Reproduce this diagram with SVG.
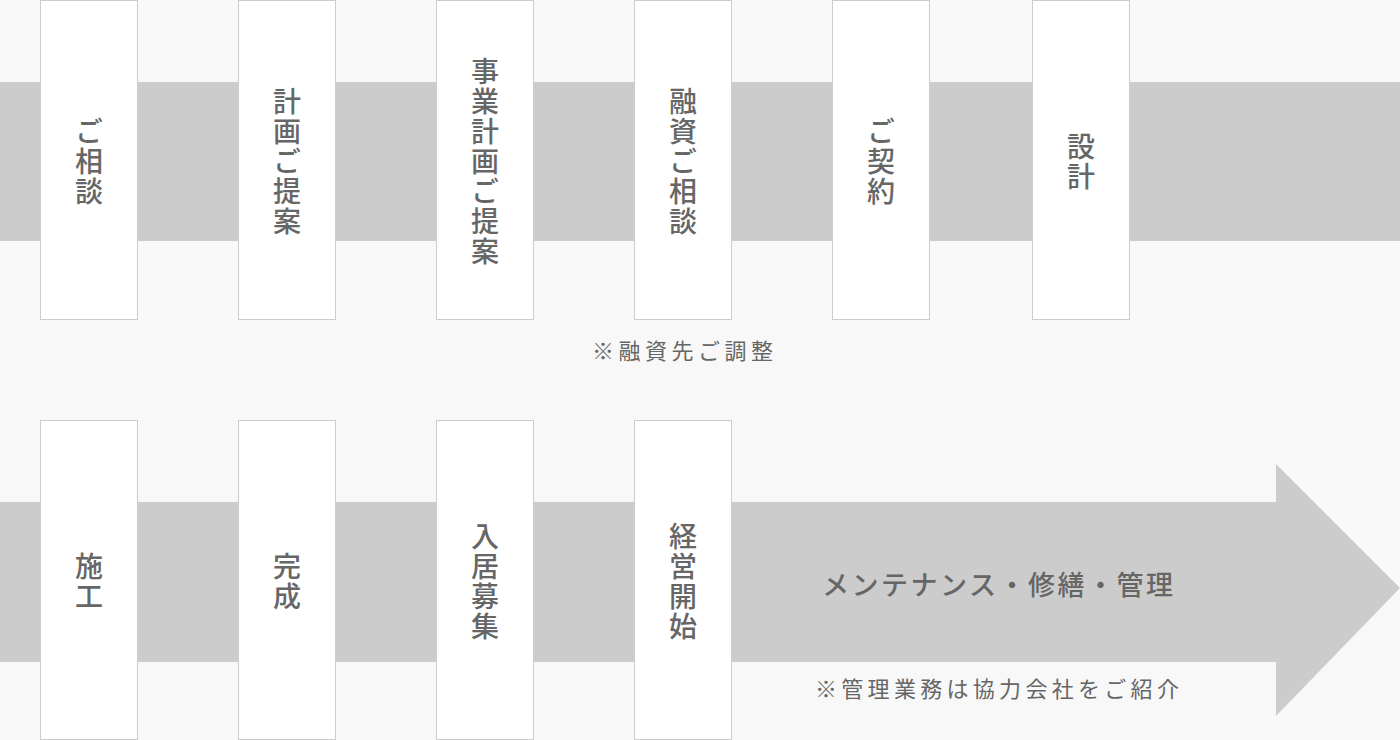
<svg xmlns="http://www.w3.org/2000/svg" width="1400" height="740" viewBox="0 0 1400 740">
<style>
.box{fill:#ffffff;stroke:#cccccc;stroke-width:1}
.band{fill:#cccccc}
.lbl{font-family:"Noto Sans CJK JP","Noto Sans",sans-serif;font-size:28px;font-weight:500;fill:#666666;text-anchor:middle;writing-mode:vertical-rl;letter-spacing:2px}
.note{font-family:"Noto Sans CJK JP","Noto Sans",sans-serif;font-size:22px;fill:#666666;dominant-baseline:central}
.big{font-family:"Noto Sans CJK JP","Noto Sans",sans-serif;font-size:27px;font-weight:500;fill:#666666;dominant-baseline:central}
</style>
<rect x="0" y="0" width="1400" height="740" fill="#f8f8f8"/>
<g id="connectors">
<rect class="band" x="0" y="82" width="1400" height="159"/>
<polygon class="band" points="0,502 1276,502 1276,464 1400,588 1276,716 1276,662 0,662"/>
</g>
<g id="n1"><rect class="box" x="40.5" y="0.5" width="97" height="319"/>
<text class="lbl" x="89" y="162">ご相談</text></g>
<g id="n2"><rect class="box" x="238.5" y="0.5" width="97" height="319"/>
<text class="lbl" x="287" y="162">計画ご提案</text></g>
<g id="n3"><rect class="box" x="436.5" y="0.5" width="97" height="319"/>
<text class="lbl" x="485" y="162">事業計画ご提案</text></g>
<g id="n4"><rect class="box" x="634.5" y="0.5" width="97" height="319"/>
<text class="lbl" x="683" y="162">融資ご相談</text></g>
<g id="n5"><rect class="box" x="832.5" y="0.5" width="97" height="319"/>
<text class="lbl" x="881" y="162">ご契約</text></g>
<g id="n6"><rect class="box" x="1032.5" y="0.5" width="97" height="319"/>
<text class="lbl" x="1081" y="162">設計</text></g>
<g id="note1"><text class="note" x="592" y="349" letter-spacing="4.5">※融資先ご調整</text></g>
<g id="n7"><rect class="box" x="40.5" y="420.5" width="97" height="319"/>
<text class="lbl" x="89" y="582">施工</text></g>
<g id="n8"><rect class="box" x="238.5" y="420.5" width="97" height="319"/>
<text class="lbl" x="287" y="582">完成</text></g>
<g id="n9"><rect class="box" x="436.5" y="420.5" width="97" height="319"/>
<text class="lbl" x="485" y="582">入居募集</text></g>
<g id="n10"><rect class="box" x="634.5" y="420.5" width="97" height="319"/>
<text class="lbl" x="683" y="582">経営開始</text></g>
<g id="n11"><text class="big" x="822" y="583" letter-spacing="2.5">メンテナンス・修繕・管理</text></g>
<g id="note2"><text class="note" x="815" y="687" letter-spacing="4.3">※管理業務は協力会社をご紹介</text></g>
</svg>
